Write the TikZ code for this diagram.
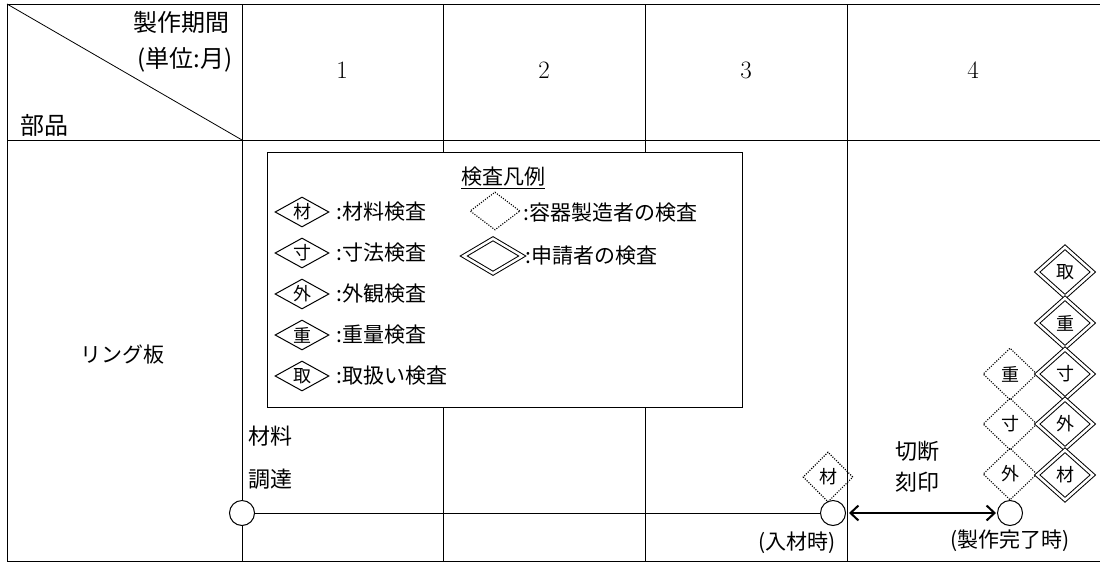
\documentclass[tikz,border=0pt]{standalone}
\usepackage{fontspec}
\newfontfamily\jp{Noto Sans CJK JP}
\usetikzlibrary{shapes.geometric,arrows.meta}
\begin{document}
\begin{tikzpicture}[x=1pt,y=-1pt,line width=0.8pt,>={Straight Barb[length=8pt,width=15pt,line width=2pt]},
	every node/.style={font=\jp\fontsize{21}{24}\selectfont,inner sep=0},
	every label/.style={font=\jp\fontsize{18}{20}\selectfont},
	insp/.style={diamond,draw,line width=1pt,minimum width=54,minimum height=30},
	maker/.style={diamond,draw,line width=1.1pt,dash pattern=on 1.1pt off 1.4pt,minimum width=54,minimum height=52},
	appl/.style={diamond,draw,line width=1pt,double,double distance=2.5pt,minimum width=56,minimum height=50},
	ev/.style={circle,draw,line width=1pt,fill=white,minimum size=25}]
\useasboundingbox (0,0) rectangle (1100,563);
% table
\draw (1100,4) -- (7,4) -- (7,561) -- (1100,561);
\draw (7,140) -- (1100,140);
\foreach \x in {242,443,645,847} \draw (\x,4) -- (\x,561);
\draw (7,4) -- (242,140);
\node[anchor=east,font=\jp\fontsize{24}{26}\selectfont] (per) at (230,22) {製作期間};
\node[anchor=east,font=\jp\fontsize{24}{26}\selectfont] (unit) at (233,60) {(単位:月)};
\node[anchor=west,font=\jp\fontsize{24}{26}\selectfont] (part) at (20,125) {部品};
\foreach \m/\x in {1/342,2/544,3/746,4/973}
	\node[font=\fontsize{25}{28}\selectfont] (mon\m) at (\x,70) {\m};
\node (ring) at (122,355) {リング板};
% legend
\node[draw,fill=white,minimum width=475,minimum height=255,anchor=north west] (leg) at (267,152) {};
\node (legt) at (503,178) {\underline{検査凡例}};
\foreach \k/\t [count=\i] in {材/材料検査,寸/寸法検査,外/外観検査,重/重量検査,取/取扱い検査}{
	\node[insp,label=center:\k] (k\i) at (302,171+41*\i) {};
	\node[anchor=west] (t\i) at (336,171+41*\i) {:\t};
}
\node[maker,minimum width=50,minimum height=38] (lm) at (495,211) {};
\node[anchor=west] (lmt) at (523,213) {:容器製造者の検査};
\node[appl,minimum width=59,minimum height=35] (la) at (493,256) {};
\node[anchor=west] (lat) at (525,256) {:申請者の検査};
% schedule
\node[ev] (c1) at (242,513) {};
\node[ev] (c2) at (833,513) {};
\node[ev] (c3) at (1010,513) {};
\draw (c1) -- (c2);
\draw[<->,line width=2.2pt,shorten <=3pt,shorten >=1pt] (c2) -- (c3);
\node[anchor=west,align=left,font=\jp\fontsize{22}{43}\selectfont] (buy) at (248,458) {材料\\調達};
\node[align=center,font=\jp\fontsize{22}{31}\selectfont] (cut) at (917,467) {切断\\刻印};
\node (inmat) at (797,543) {(入材時)};
\node (done) at (1010,541) {(製作完了時)};
\node[maker,minimum width=50,minimum height=50,label=center:材] (d0) at (828,477) {};
\foreach \k/\y [count=\i] in {重/374,寸/424,外/474}
	\node[maker,label=center:\k] (mk\i) at (1010,\y) {};
\foreach \k/\y [count=\i] in {取/272,重/323,寸/374,外/424,材/475}
	\node[appl,label=center:\k] (ap\i) at (1065,\y) {};
%\draw[dashed] (leg.south) -- (c1);
\end{tikzpicture}
\end{document}
